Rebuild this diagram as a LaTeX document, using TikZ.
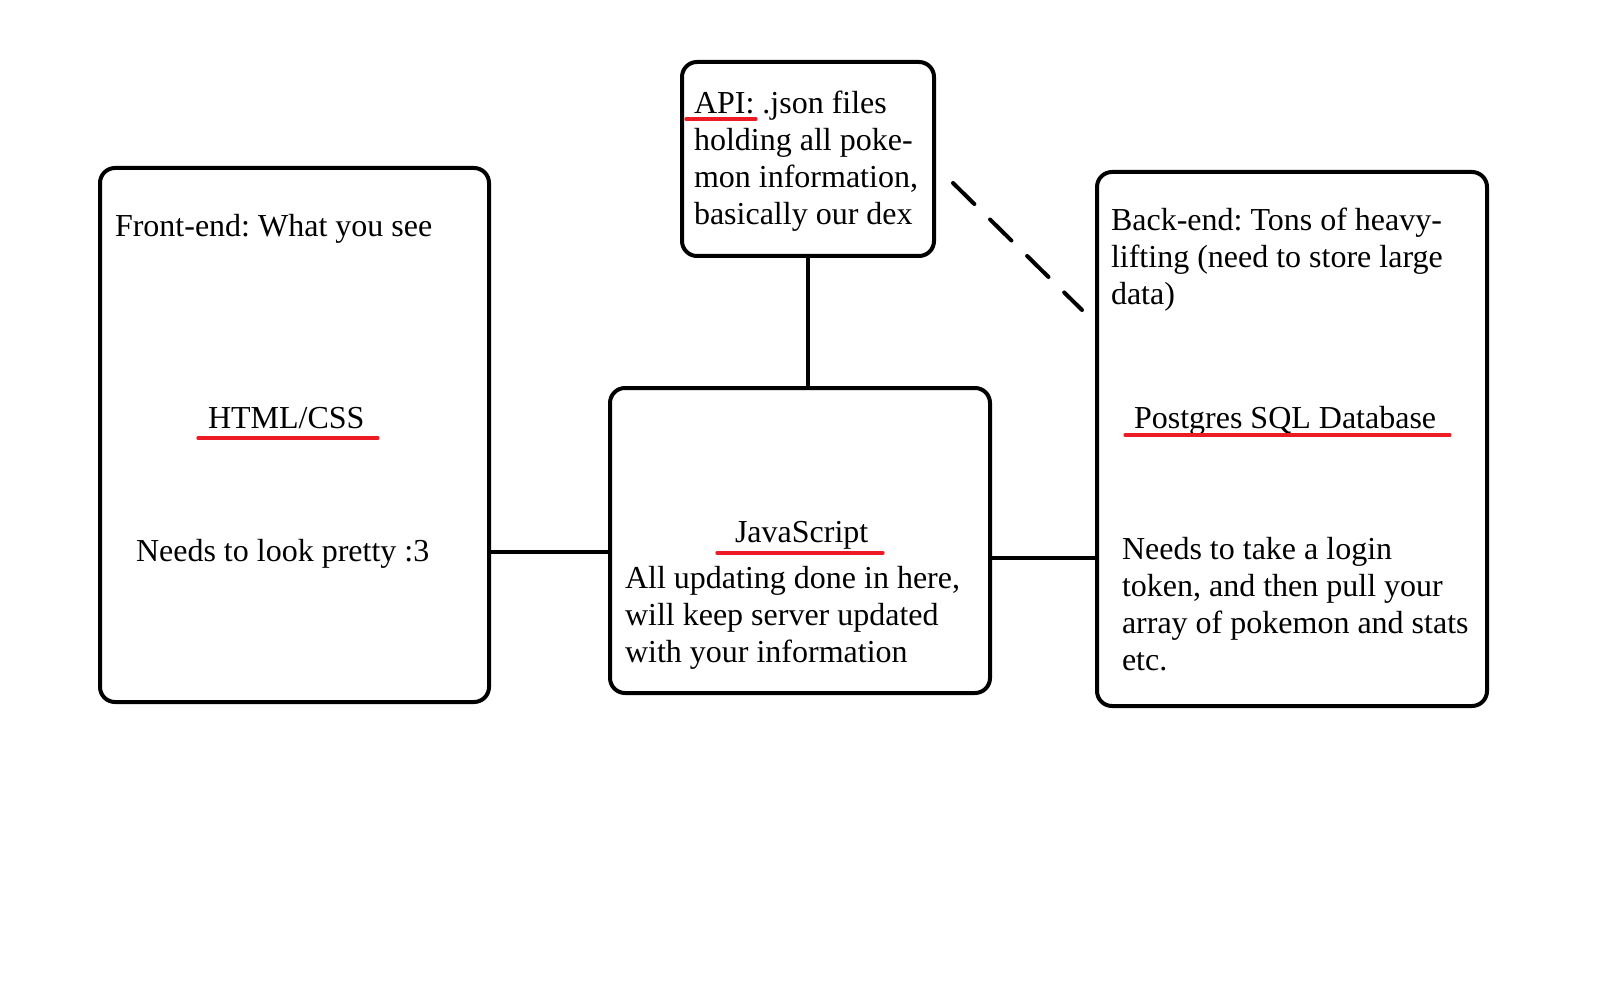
\documentclass[tikz,border=0pt]{standalone}
\usepackage{fontspec}
\setmainfont{Liberation Serif}
\definecolor{ured}{RGB}{237,28,36}
\frenchspacing
\begin{document}
\begin{tikzpicture}[x=0.5pt,y=-0.5pt,
  box/.style={draw=black,line width=2pt,rounded corners=7.5pt,inner sep=0pt,outer sep=0pt},
  txt/.style={anchor=base west,inner sep=0pt,outer sep=0pt,font=\fontsize{16}{18.5}\selectfont},
  link/.style={draw=black,line width=2pt},
  dlink/.style={draw=black,line width=2pt,dash pattern=on 15pt off 11pt,line cap=round},
  uline/.style={draw=ured,line width=1.6pt,line cap=round}]
\useasboundingbox[fill=white] (0,0) rectangle (1600,1000);

% boxes
\node[box,minimum width=194.5pt,minimum height=267pt] (lb) at (294.5,435) {};
\node[box,minimum width=126pt,minimum height=97pt] (api) at (808,159) {};
\node[box,minimum width=190pt,minimum height=152.5pt] (js) at (800,540.5) {};
\node[box,minimum width=195pt,minimum height=267pt] (rb) at (1292,439) {};

% connectors
\coordinate (yl) at (0,552);
\coordinate (yr) at (0,558);
\draw[link] (lb.east |- yl) -- (js.west |- yl);
\draw[link] (js.east |- yr) -- (rb.west |- yr);
\draw[link] (api.south) -- (api.south |- js.north);
\coordinate (d1) at (953,183);
\coordinate (d2) at (1082,310);
\draw[dlink] (d1) -- (d2);

% left box text
\node[txt] (t1) at (115,237) {Front-end: What you see};
\node[txt] (t2) at (208,428) {HTML/CSS};
\node[txt] (t3) at (136,561) {Needs to look pretty :3};
\draw[uline] (198,438) -- (378,438);

% api text
\node[txt] (a1) at (694,114) {API: .json files};
\node[txt] (a2) at (694,151) {holding all poke-};
\node[txt] (a3) at (694,188) {mon information,};
\node[txt] (a4) at (694,225) {basically our dex};
\draw[uline] (686,119) -- (756,119);

% js text
\node[txt] (j1) at (735,542) {JavaScript};
\node[txt] (j2) at (625,588) {All updating done in here,};
\node[txt] (j3) at (625,625) {will keep server updated};
\node[txt] (j4) at (625,662) {with your information};
\draw[uline] (717,553) -- (883,553);

% right box text
\node[txt] (b1) at (1111,231) {Back-end: Tons of heavy-};
\node[txt] (b2) at (1111,268) {lifting (need to store large};
\node[txt] (b3) at (1111,305) {data)};
\node[txt] (b4) at (1134,428) {Postgres SQL Database};
\draw[uline] (1125,435) -- (1450,435);
\node[txt] (b5) at (1122,559) {Needs to take a login};
\node[txt] (b6) at (1122,596) {token, and then pull your};
\node[txt] (b7) at (1122,633) {array of pokemon and stats};
\node[txt] (b8) at (1122,670) {etc.};
\end{tikzpicture}
\end{document}
